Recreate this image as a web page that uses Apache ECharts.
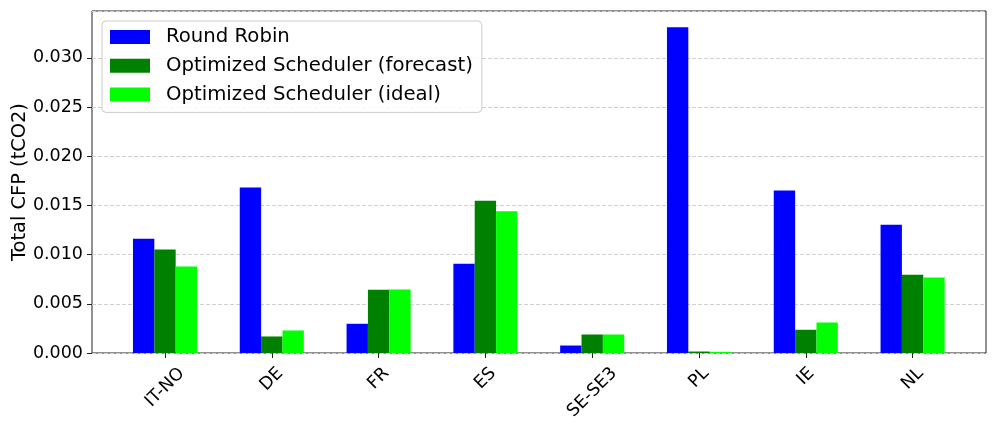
<!DOCTYPE html>
<html>
<head>
<meta charset="utf-8">
<script src="https://cdn.jsdelivr.net/npm/echarts@6/dist/echarts.min.js"></script>
<style>
  html, body { margin: 0; padding: 0; background: #fff; }
  #chart { width: 997px; height: 427px; }
</style>
</head>
<body>
<div id="chart"></div>
<script>
// regions and values (tCO2)
var regions = ['IT-NO', 'DE', 'FR', 'ES', 'SE-SE3', 'PL', 'IE', 'NL'];
var roundRobin = [0.01161, 0.01682, 0.00297, 0.00906, 0.00076, 0.03311, 0.01651, 0.01303];
var optForecast = [0.01052, 0.00168, 0.00642, 0.01547, 0.00188, 0.00015, 0.00236, 0.00795];
var optIdeal = [0.00879, 0.00229, 0.00645, 0.01441, 0.00188, 0.00012, 0.00310, 0.00767];
var seriesNames = ['Round Robin', 'Optimized Scheduler (forecast)', 'Optimized Scheduler (ideal)'];
var seriesColors = ['#0000ff', '#008000', '#00ff00'];

var yMax = 0.03476;
var font = 'DejaVu Sans';
var tickFont = 17.5;

// rotated labels: matplotlib centres the rotated box under the tick, top fixed
// -> push each label down by half its rotated box (padding shifts the centre)
var ctx = document.createElement('canvas').getContext('2d');
ctx.font = tickFont + 'px "' + font + '"';
var labelRich = {};
regions.forEach(function (r, i) {
    var w = ctx.measureText(r).width;
    var box = (w + 1.164 * tickFont) / Math.SQRT2;
    var s = Math.SQRT2 * (10.5 + box / 2);
    labelRich['l' + i] = { fontFamily: font, fontSize: tickFont, color: '#000', padding: [s, s, 0, 0] };
});

var chart = echarts.init(document.getElementById('chart'));

var option = {
    animation: false,
    backgroundColor: '#fff',
    textStyle: { fontFamily: font },
    // grid 0 : frame + y axis, grid 1 : bars (inset like matplotlib margins)
    grid: [
        { left: 92, right: 11, top: 11, bottom: 74, outerBoundsMode: 'none', containLabel: false,
          show: true, borderColor: '#222', borderWidth: 1, backgroundColor: 'transparent' },
        { left: 111.6, right: 31, top: 11, bottom: 74, outerBoundsMode: 'none', containLabel: false }
    ],
    legend: {
        orient: 'vertical',
        left: 102,
        top: 21,
        data: seriesNames,
        icon: 'rect',
        itemWidth: 40,
        itemHeight: 14,
        itemGap: 8.7,
        padding: [6, 9, 8, 8],
        backgroundColor: 'rgba(255,255,255,0.85)',
        borderColor: '#cccccc',
        borderWidth: 1,
        borderRadius: 4,
        textStyle: { fontFamily: font, fontSize: 19.7, color: '#000', lineHeight: 20, padding: [0, 0, 0, 11] }
    },
    xAxis: [
        { type: 'value', gridIndex: 0, min: 0, max: 1, show: false },
        {
            type: 'category',
            gridIndex: 1,
            data: regions,
            axisLine: { show: false },
            axisTick: { show: true, alignWithLabel: true, length: 5, lineStyle: { color: '#222' } },
            axisLabel: {
                interval: 0,
                rotate: 45,
                align: 'center',
                verticalAlign: 'middle',
                margin: 0,
                fontFamily: font,
                fontSize: tickFont,
                color: '#000',
                formatter: function (v, i) { return '{l' + i + '|' + v + '}'; },
                rich: labelRich
            },
            splitLine: { show: false }
        }
    ],
    yAxis: [
        {
            type: 'value',
            gridIndex: 0,
            min: 0,
            max: yMax,
            interval: 0.005,
            name: 'Total CFP (tCO2)',
            nameLocation: 'middle',
            nameGap: 63,
            nameMoveOverlap: false,
            nameTextStyle: { fontFamily: font, fontSize: 19.4, color: '#000' },
            axisLine: { show: false },
            axisTick: { show: true, length: 5, lineStyle: { color: '#222' } },
            axisLabel: {
                showMaxLabel: false,
                margin: 9,
                fontFamily: font,
                fontSize: tickFont,
                color: '#000',
                formatter: function (v) { return v.toFixed(3); }
            },
            splitLine: { show: true, lineStyle: { color: '#d0d0d0', type: [4, 2], width: 1 } }
        },
        { type: 'value', gridIndex: 1, min: 0, max: yMax, show: false }
    ],
    series: [
        { name: seriesNames[0], type: 'bar', xAxisIndex: 1, yAxisIndex: 1, data: roundRobin, barWidth: 21.36, barGap: '0%', itemStyle: { color: seriesColors[0] } },
        { name: seriesNames[1], type: 'bar', xAxisIndex: 1, yAxisIndex: 1, data: optForecast, barWidth: 21.36, barGap: '0%', itemStyle: { color: seriesColors[1] } },
        { name: seriesNames[2], type: 'bar', xAxisIndex: 1, yAxisIndex: 1, data: optIdeal, barWidth: 21.36, barGap: '0%', itemStyle: { color: seriesColors[2] } }
    ]
};

chart.setOption(option);
window.addEventListener('resize', chart.resize);
</script>
</body>
</html>
